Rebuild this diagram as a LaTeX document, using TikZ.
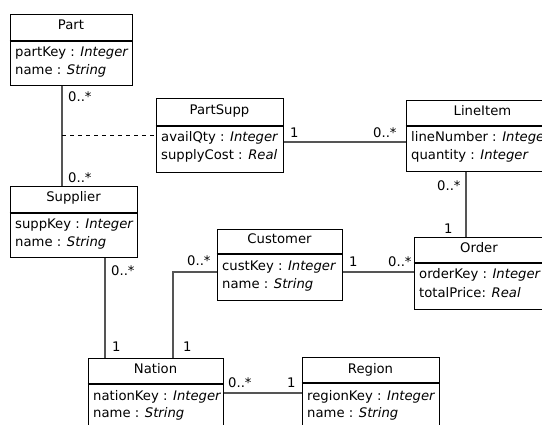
\documentclass[tikz,border=0pt]{standalone}
\usepackage{fontspec}
\setmainfont{DejaVu Sans}
\usepackage{tikz}
\usetikzlibrary{positioning}
\definecolor{linkgray}{RGB}{85,85,85}

\begin{document}
\begin{tikzpicture}[x=1pt, y=-1pt,
    classbox/.style={draw=black, line width=1pt, inner sep=0pt, fill=white},
    ctitle/.style={inner sep=0pt, anchor=base, font=\fontsize{13.2}{15}\selectfont},
    cattr/.style={inner sep=0pt, anchor=base west, font=\fontsize{13.2}{15}\selectfont},
    sepline/.style={line width=2pt},
    assoc/.style={draw=linkgray, line width=1.2pt},
    mult/.style={inner sep=0pt, anchor=base west, font=\fontsize{13.2}{15}\selectfont}]
    \useasboundingbox (0,0) rectangle (542,424);
    \clip (0,0) rectangle (542,424);

    %classes
    \node[classbox, minimum width=122pt, minimum height=71pt] (part) at (71,49.5) {};
    \draw[sepline] (part.west |- 0,41) -- (part.east |- 0,41);
    \node[ctitle] (parttitle) at (71,29.5) {Part};
    \node[cattr] (partkey) at (15,56.5) {partKey : \textit{Integer}};
    \node[cattr] (partname) at (15,74.5) {name : \textit{String}};

    \node[classbox, minimum width=127pt, minimum height=74pt] (partsupp) at (219.5,135) {};
    \draw[sepline] (partsupp.west |- 0,125.5) -- (partsupp.east |- 0,125.5);
    \node[ctitle] (partsupptitle) at (219.5,114.5) {PartSupp};
    \node[cattr] (availqty) at (161,141.5) {availQty : \textit{Integer}};
    \node[cattr] (supplycost) at (161,159.5) {supplyCost : \textit{Real}};

    \node[classbox, minimum width=153pt, minimum height=71pt] (lineitem) at (482.5,135.5) {};
    \draw[sepline] (lineitem.west |- 0,126) -- (lineitem.east |- 0,126);
    \node[ctitle] (lineitemtitle) at (482.5,115) {LineItem};
    \node[cattr] (linenumber) at (411,141.5) {lineNumber : \textit{Integer}};
    \node[cattr] (quantity) at (411,159.5) {quantity : \textit{Integer}};

    \node[classbox, minimum width=127pt, minimum height=71pt] (supplier) at (73.5,221.5) {};
    \draw[sepline] (supplier.west |- 0,212.5) -- (supplier.east |- 0,212.5);
    \node[ctitle] (suppliertitle) at (73.5,201.5) {Supplier};
    \node[cattr] (suppkey) at (15,228) {suppKey : \textit{Integer}};
    \node[cattr] (suppname) at (15,246) {name : \textit{String}};

    \node[classbox, minimum width=125pt, minimum height=71pt] (customer) at (279.5,264.5) {};
    \draw[sepline] (customer.west |- 0,254) -- (customer.east |- 0,254);
    \node[ctitle] (customertitle) at (279.5,243.5) {Customer};
    \node[cattr] (custkey) at (222,270.5) {custKey : \textit{Integer}};
    \node[cattr] (custname) at (222,288.5) {name : \textit{String}};

    \node[classbox, minimum width=130pt, minimum height=72pt] (order) at (479,273) {};
    \draw[sepline] (order.west |- 0,263) -- (order.east |- 0,263);
    \node[ctitle] (ordertitle) at (479,252.5) {Order};
    \node[cattr] (orderkey) at (419,278.5) {orderKey : \textit{Integer}};
    \node[cattr] (totalprice) at (419,297) {totalPrice: \textit{Real}};

    \node[classbox, minimum width=135pt, minimum height=72pt] (nation) at (155.5,394) {};
    \draw[sepline] (nation.west |- 0,383.5) -- (nation.east |- 0,383.5);
    \node[ctitle] (nationtitle) at (155.5,373) {Nation};
    \node[cattr] (nationkey) at (93,400) {nationKey : \textit{Integer}};
    \node[cattr] (nationname) at (93,417.5) {name : \textit{String}};

    \node[classbox, minimum width=137pt, minimum height=72pt] (region) at (370.5,393) {};
    \draw[sepline] (region.west |- 0,383) -- (region.east |- 0,383);
    \node[ctitle] (regiontitle) at (370.5,373) {Region};
    \node[cattr] (regionkey) at (307,400) {regionKey : \textit{Integer}};
    \node[cattr] (regionname) at (307,417.5) {name : \textit{String}};

    %associations
    \coordinate (ps) at (62,135);
    \coordinate (pl) at (0,142);
    \coordinate (lo) at (466,0);
    \coordinate (co) at (0,272);
    \coordinate (sn) at (105,0);
    \coordinate (cn) at (173,272);
    \coordinate (nr) at (0,393);

    \draw[assoc] (part.south -| ps) -- (supplier.north -| ps);
    \draw[dashed, line width=1pt, dash pattern=on 4pt off 4pt] (ps) -- (partsupp.west |- ps);
    \draw[assoc] (partsupp.east |- pl) -- (lineitem.west |- pl);
    \draw[assoc] (lineitem.south -| lo) -- (order.north -| lo);
    \draw[assoc] (customer.east |- co) -- (order.west |- co);
    \draw[assoc] (supplier.south -| sn) -- (nation.north -| sn);
    \draw[assoc] (customer.west |- cn) -- (cn) -- (nation.north -| cn);
    \draw[assoc] (nation.east |- nr) -- (region.west |- nr);

    %multiplicities
    \node[mult] (m1) at (68,101.5) {0..*};
    \node[mult] (m2) at (68,182.5) {0..*};
    \node[mult] (m3) at (290,137) {1};
    \node[mult] (m4) at (373,137) {0..*};
    \node[mult] (m5) at (437,190) {0..*};
    \node[mult] (m6) at (444,233) {1};
    \node[mult] (m7) at (349,266.5) {1};
    \node[mult] (m8) at (388,266.5) {0..*};
    \node[mult] (m9) at (111,275) {0..*};
    \node[mult] (m10) at (112,351.5) {1};
    \node[mult] (m11) at (187,265.5) {0..*};
    \node[mult] (m12) at (183,351.5) {1};
    \node[mult] (m13) at (228,387) {0..*};
    \node[mult] (m14) at (287,387) {1};

\end{tikzpicture}
\end{document}
